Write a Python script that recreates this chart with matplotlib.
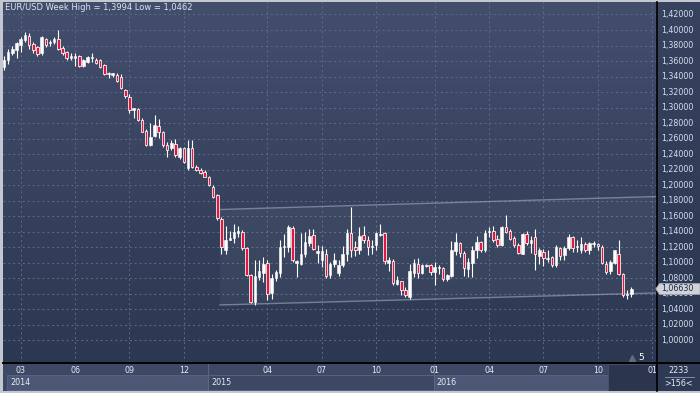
import numpy as np
import matplotlib
matplotlib.use('Agg')
import matplotlib.pyplot as plt
from matplotlib.patches import Rectangle, Polygon
from matplotlib.colors import LinearSegmentedColormap

# ---------------- data (weekly EUR/USD candles) ----------------
opens = [1.352,1.361,1.370,1.374,1.381,1.387,1.392,1.382,1.378,1.370,1.388,1.383,1.384,1.388,1.377,1.372,1.364,1.364,1.366,1.354,
         1.359,1.364,1.362,1.361,1.355,1.343,1.342,1.342,1.340,1.323,1.314,1.297,1.298,1.284,1.270,1.252,1.264,1.276,1.269,1.252,
         1.248,1.253,1.237,1.248,1.222,1.248,1.224,1.220,1.217,1.211,1.198,1.187,1.157,1.116,1.130,1.132,1.139,1.140,1.119,1.084,
         1.050,1.082,1.087,1.100,1.061,1.081,1.087,1.120,1.121,1.145,1.100,1.099,1.111,1.125,1.136,1.113,1.103,1.112,1.084,1.099,
         1.087,1.097,1.111,1.139,1.120,1.116,1.136,1.129,1.120,1.123,1.136,1.138,1.100,1.102,1.073,1.076,1.065,1.056,1.087,1.098,
         1.087,1.096,1.097,1.088,1.093,1.093,1.079,1.083,1.115,1.126,1.113,1.092,1.100,1.116,1.127,1.117,1.140,1.141,1.131,1.123,
         1.146,1.141,1.132,1.123,1.112,1.137,1.125,1.133,1.109,1.114,1.105,1.108,1.097,1.119,1.110,1.119,1.133,1.120,1.116,1.124,
         1.116,1.124,1.124,1.121,1.099,1.089,1.100,1.111,1.085,1.059,1.060]
highs = [1.366,1.375,1.379,1.385,1.391,1.397,1.396,1.385,1.380,1.392,1.390,1.387,1.391,1.3994,1.380,1.373,1.370,1.370,1.368,1.363,
         1.367,1.371,1.364,1.363,1.356,1.346,1.345,1.344,1.343,1.324,1.317,1.300,1.300,1.286,1.272,1.280,1.290,1.285,1.270,1.256,
         1.258,1.260,1.249,1.249,1.258,1.258,1.226,1.222,1.219,1.212,1.200,1.189,1.159,1.148,1.141,1.150,1.147,1.142,1.121,1.086,
         1.104,1.104,1.108,1.103,1.086,1.091,1.130,1.137,1.149,1.147,1.103,1.139,1.140,1.143,1.144,1.123,1.122,1.118,1.101,1.113,
         1.103,1.122,1.144,1.172,1.128,1.146,1.147,1.134,1.130,1.140,1.150,1.140,1.108,1.105,1.083,1.077,1.069,1.098,1.105,1.106,
         1.099,1.099,1.099,1.101,1.097,1.095,1.086,1.128,1.138,1.127,1.115,1.106,1.122,1.134,1.128,1.142,1.146,1.147,1.136,1.148,
         1.1615,1.144,1.135,1.125,1.139,1.141,1.134,1.143,1.119,1.118,1.116,1.109,1.123,1.121,1.122,1.137,1.135,1.130,1.133,1.127,
         1.127,1.128,1.126,1.123,1.102,1.103,1.117,1.130,1.087,1.065,1.069]
lows = [1.348,1.356,1.368,1.364,1.372,1.384,1.376,1.370,1.367,1.368,1.378,1.380,1.382,1.374,1.368,1.362,1.361,1.353,1.352,1.352,
        1.357,1.359,1.356,1.351,1.342,1.338,1.340,1.333,1.324,1.313,1.293,1.286,1.283,1.268,1.251,1.250,1.262,1.261,1.249,1.237,
        1.246,1.237,1.234,1.229,1.220,1.222,1.218,1.215,1.210,1.199,1.183,1.155,1.112,1.111,1.129,1.126,1.133,1.117,1.083,1.048,
        1.0462,1.078,1.075,1.052,1.053,1.076,1.082,1.107,1.114,1.101,1.082,1.097,1.108,1.122,1.116,1.100,1.095,1.081,1.081,1.095,
        1.083,1.095,1.102,1.108,1.109,1.112,1.125,1.110,1.112,1.117,1.134,1.099,1.090,1.071,1.071,1.059,1.056,1.053,1.082,1.080,
        1.085,1.094,1.084,1.071,1.086,1.077,1.077,1.082,1.110,1.107,1.083,1.082,1.082,1.106,1.114,1.114,1.133,1.127,1.121,1.122,
        1.138,1.130,1.121,1.111,1.111,1.123,1.113,1.091,1.098,1.096,1.101,1.095,1.095,1.104,1.104,1.117,1.114,1.114,1.113,1.114,
        1.112,1.121,1.117,1.098,1.086,1.085,1.098,1.084,1.056,1.054,1.056]
closes = [1.362,1.372,1.376,1.383,1.389,1.394,1.381,1.374,1.369,1.391,1.381,1.385,1.388,1.375,1.370,1.364,1.366,1.366,1.354,1.361,
          1.365,1.365,1.358,1.352,1.343,1.345,1.344,1.334,1.325,1.315,1.297,1.299,1.284,1.269,1.252,1.262,1.277,1.268,1.252,1.246,
          1.255,1.239,1.248,1.230,1.248,1.223,1.220,1.216,1.211,1.200,1.185,1.158,1.121,1.130,1.132,1.140,1.141,1.119,1.084,1.050,
          1.083,1.090,1.098,1.060,1.081,1.088,1.121,1.122,1.146,1.104,1.102,1.112,1.127,1.135,1.118,1.115,1.115,1.083,1.099,1.103,
          1.097,1.111,1.139,1.117,1.116,1.134,1.130,1.121,1.122,1.138,1.137,1.102,1.103,1.074,1.078,1.065,1.059,1.089,1.100,1.087,
          1.097,1.097,1.088,1.094,1.094,1.079,1.084,1.116,1.127,1.113,1.093,1.101,1.116,1.127,1.117,1.139,1.141,1.129,1.123,1.146,
          1.140,1.131,1.123,1.113,1.137,1.126,1.130,1.112,1.116,1.106,1.106,1.097,1.120,1.109,1.119,1.133,1.119,1.121,1.124,1.117,
          1.125,1.125,1.122,1.100,1.088,1.101,1.116,1.086,1.059,1.058,1.0663]

# axis texts
price_ticks = [1.00, 1.02, 1.04, 1.06, 1.08, 1.10, 1.12, 1.14, 1.16, 1.18, 1.20,
               1.22, 1.24, 1.26, 1.28, 1.30, 1.32, 1.34, 1.36, 1.38, 1.40, 1.42]
month_tick_idx = [4, 17, 30, 43, 63, 76, 89, 103, 116, 129, 142, 155]
month_tick_labels = ['03', '06', '09', '12', '04', '07', '10', '01', '04', '07', '10', '01']
year_labels = ['2014', '2015', '2016']
year_spans = [(0.72, 48.8), (48.8, 102.8), (102.8, 144.4)]
title = 'EUR/USD Week High = 1,3994 Low = 1,0462'
last_price = 1.06630
channel_x = (51.65, 156.3)
channel_top = (1.1687, 1.1855)
channel_bot = (1.0457, 1.0612)

# ---------------- layout ----------------
W, H = 700, 393
fig = plt.figure(figsize=(7, 3.93), dpi=100, facecolor='#c3c8d0')

def fax(x0, y0, w, h):
    return fig.add_axes([x0 / W, 1 - (y0 + h) / H, w / W, h / H])

XMIN, XMAX = -0.24, 156.15
YMIN, YMAX = 0.9709, 1.4361

ax = fax(3, 2, 654, 361)
ax.set_xlim(XMIN, XMAX)
ax.set_ylim(YMIN, YMAX)
ax.set_axis_off()

cmap = LinearSegmentedColormap.from_list('bg', ['#424e6c', '#37435f', '#2c3751'])
grad = np.linspace(0, 1, 256).reshape(-1, 1)
ax.imshow(grad, aspect='auto', cmap=cmap, extent=[XMIN, XMAX, YMIN, YMAX],
          origin='upper', zorder=0, interpolation='bilinear')

# grid
for v in price_ticks:
    ax.axhline(v, color='#5e6b88', lw=0.7, ls=(0, (2, 3)), zorder=1)
for xi in month_tick_idx:
    ax.axvline(xi, color='#5e6b88', lw=0.7, ls=(0, (2, 3)), zorder=1)

# channel
poly = Polygon([(channel_x[0], channel_bot[0]), (channel_x[1], channel_bot[1]),
                (channel_x[1], channel_top[1]), (channel_x[0], channel_top[0])],
               closed=True, facecolor='white', alpha=0.045, edgecolor='none', zorder=1.5)
ax.add_patch(poly)
ax.plot(channel_x, channel_top, color='#9aa3b8', lw=1.0, alpha=0.65, zorder=2)
ax.plot(channel_x, channel_bot, color='#9aa3b8', lw=1.0, alpha=0.65, zorder=2)

# candles
o = np.array(opens); h = np.array(highs); l = np.array(lows); c = np.array(closes)
idx = np.arange(len(o))
ax.vlines(idx, l, h, color='white', lw=0.8, zorder=3)
up = c >= o
body_lo = np.minimum(o, c)
body_h = np.maximum(np.abs(c - o), 0.0012)
ax.bar(idx[up], body_h[up], bottom=body_lo[up], width=0.6, color='white',
       edgecolor='white', linewidth=0.4, zorder=4)
ax.bar(idx[~up], body_h[~up], bottom=body_lo[~up], width=0.62, color='#e2163e',
       edgecolor='white', linewidth=0.55, zorder=4)

# marker "▲ 5"
ax.plot([(632 - 3) / 654], [(363 - 357.5) / 361], marker='^', color='#5f6a84', ms=4.5,
        transform=ax.transAxes, zorder=5, clip_on=False)
ax.text((638 - 3) / 654, (363 - 357) / 361, '5', transform=ax.transAxes, color='white',
        fontsize=6.5, ha='left', va='center', zorder=5)

# title
ax.text(2 / 654, 1 - 6 / 361, title, transform=ax.transAxes, color='#dde3ee',
        fontsize=6.0, ha='left', va='center', zorder=6)

# ---------------- right price axis ----------------
rax = fax(657, 2, 43, 361)
rax.set_xlim(0, 1)
rax.set_ylim(YMIN, YMAX)
rax.set_xticks([]); rax.set_yticks([])
rcmap = LinearSegmentedColormap.from_list('rbg', ['#37435f', '#2b3650'])
rax.imshow(grad, aspect='auto', cmap=rcmap, extent=[0, 1, YMIN, YMAX], origin='upper', zorder=0)
for s in ['top', 'right', 'bottom']:
    rax.spines[s].set_visible(False)
rax.spines['left'].set_color('#000000')
rax.spines['left'].set_linewidth(1.2)
for v in price_ticks:
    rax.text(0.09, v, f'{v:.5f}'.replace('.', ','), color='#d6e0f2', fontsize=5.7,
             ha='left', va='center', zorder=2)
d = 0.0072
box = Polygon([(-0.03, last_price), (0.06, last_price + d), (1.0, last_price + d),
               (1.0, last_price - d), (0.06, last_price - d)], closed=True,
              facecolor='#cfd2d8', edgecolor='#9aa0aa', lw=0.5, zorder=3, clip_on=False)
rax.add_patch(box)
rax.text(0.10, last_price, f'{last_price:.5f}'.replace('.', ','), color='#1c2740',
         fontsize=5.7, ha='left', va='center', zorder=4)

# ---------------- bottom time axis ----------------
bax = fax(3, 363, 654, 28)
bax.set_xlim(XMIN, XMAX)
bax.set_ylim(28, 0)
bax.set_xticks([]); bax.set_yticks([])
bax.set_facecolor('#3c4864')
for s in ['left', 'right', 'bottom']:
    bax.spines[s].set_visible(False)
bax.spines['top'].set_color('#000000')
bax.spines['top'].set_linewidth(1.4)
for k, (x0, x1) in enumerate(year_spans):
    fc = '#4b5775' if k % 2 == 0 else '#3c4864'
    bax.add_patch(Rectangle((x0, 12), x1 - x0, 15, facecolor=fc, edgecolor='#5a6684',
                            lw=0.6, zorder=1))
    bax.text(x0 + 0.7, 19.5, year_labels[k], color='#e6ebf3', fontsize=5.8,
             ha='left', va='center', zorder=3)
for xb in [year_spans[0][1], year_spans[1][1]]:
    bax.plot([xb, xb], [0.5, 28], color='#5a6684', lw=0.8, zorder=2)
bax.add_patch(Rectangle((year_spans[2][1], 0.5), XMAX - year_spans[2][1], 28,
                        facecolor='#28324b', alpha=0.85, edgecolor='#4a5470', lw=0.6, zorder=2.5))
for xi, lab in zip(month_tick_idx, month_tick_labels):
    bax.text(xi, 7.5, lab, color='#e6ebf3', fontsize=5.8, ha='center', va='center',
             zorder=3, clip_on=True)

# bottom-right box
cax = fax(657, 363, 43, 28)
cax.set_xlim(0, 1); cax.set_ylim(28, 0)
cax.set_xticks([]); cax.set_yticks([])
cax.set_facecolor('#2e3954')
for s in ['right', 'bottom']:
    cax.spines[s].set_visible(False)
cax.spines['top'].set_color('#000000'); cax.spines['top'].set_linewidth(1.4)
cax.spines['left'].set_color('#000000'); cax.spines['left'].set_linewidth(1.2)
cax.text(0.5, 7.5, '2233', color='#e6ebf3', fontsize=5.8, ha='center', va='center')
cax.plot([0.18, 0.85], [13.5, 13.5], color='#8d9ab5', lw=0.6)
cax.text(0.5, 20, '>156<', color='#e6ebf3', fontsize=5.8, ha='center', va='center')

fig.savefig('out.png', dpi=100, facecolor=fig.get_facecolor())
